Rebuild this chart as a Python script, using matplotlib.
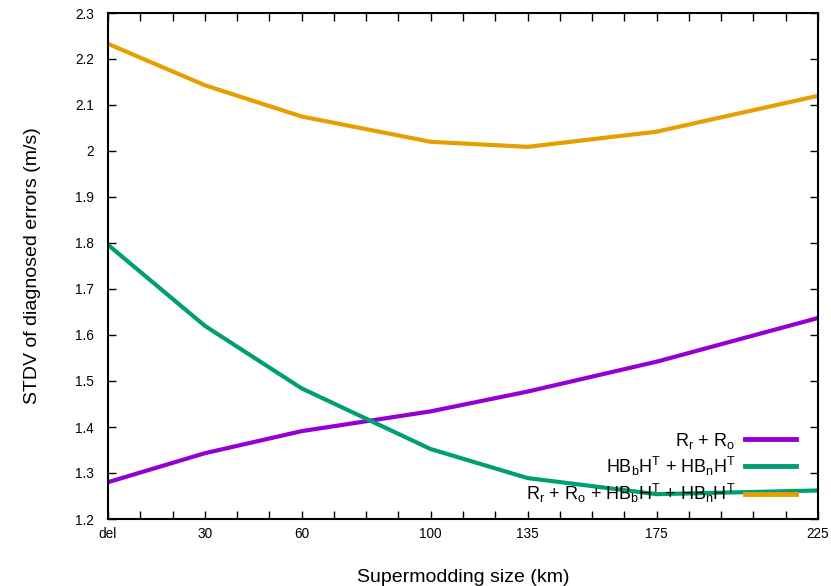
import matplotlib
matplotlib.use("Agg")
import matplotlib.pyplot as plt

plt.rcParams['font.family'] = ['Liberation Sans', 'DejaVu Sans']
plt.rcParams['mathtext.default'] = 'regular'

# supermodding sizes and their position on the index axis
size_labels = ["del", "30", "60", "100", "135", "175", "225"]
grid_index = [0, 3, 6, 10, 13, 17, 22]

# standard deviation of diagnosed errors (m/s)
r_obs = [1.280, 1.343, 1.391, 1.434, 1.477, 1.542, 1.637]
hbh = [1.796, 1.620, 1.484, 1.352, 1.289, 1.254, 1.262]
total = [2.233, 2.143, 2.075, 2.020, 2.009, 2.042, 2.120]

series_labels = [
    r"$R_r$ + $R_o$",
    r"$HB_bH^T$ + $HB_nH^T$",
    r"$R_r$ + $R_o$ + $HB_bH^T$ + $HB_nH^T$",
]
colors = ["#9400d3", "#009e73", "#e69f00"]

y_ticks = [1.2, 1.3, 1.4, 1.5, 1.6, 1.7, 1.8, 1.9, 2.0, 2.1, 2.2, 2.3]

fig = plt.figure(figsize=(8.31, 5.86), dpi=100)
ax = fig.add_axes([108 / 831, 1 - 519 / 586, 710 / 831, 506 / 586])

for ys, lab, c in zip([r_obs, hbh, total], series_labels, colors):
    ax.plot(grid_index, ys, color=c, lw=3.0, label=lab, solid_joinstyle="round")

ax.set_xlim(0, 22)
ax.set_ylim(1.2, 2.3)

ax.set_xticks(range(23))
xlabels = [""] * 23
for pos, lab in zip(grid_index, size_labels):
    xlabels[pos] = lab
ax.set_xticklabels(xlabels)
ax.set_yticks(y_ticks)
ax.set_yticklabels(["%g" % v for v in y_ticks])

ax.tick_params(direction="in", top=True, right=True, length=6, width=1,
               labelsize=9.8, colors="black")
ax.tick_params(axis="x", pad=6)
ax.tick_params(axis="y", pad=10)
for sp in ax.spines.values():
    sp.set_linewidth(1.5)

ax.set_xlabel("Supermodding size (km)", fontsize=14, labelpad=20)
ax.set_ylabel("STDV of diagnosed errors (m/s)", fontsize=14, labelpad=25)

leg = ax.legend(loc="lower right", bbox_to_anchor=(0.969, 0.028), frameon=False,
                markerfirst=False, fontsize=13, handlelength=2.8,
                handletextpad=0.55, labelspacing=0.22, borderpad=0,
                borderaxespad=0)
for line in leg.get_lines():
    line.set_linewidth(3.5)

fig.savefig("out.png", dpi=100)
